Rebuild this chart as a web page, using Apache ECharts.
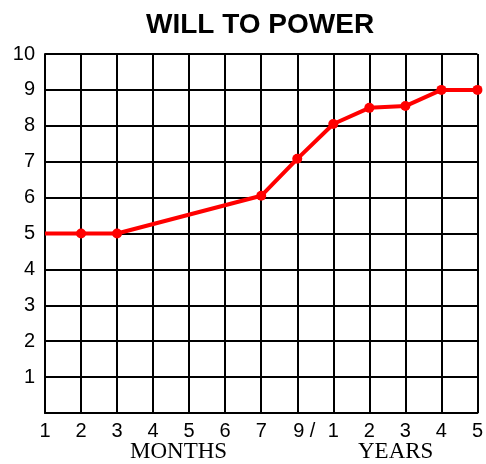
<!DOCTYPE html>
<html>
<head>
<meta charset="utf-8">
<script src="https://cdn.jsdelivr.net/npm/echarts@6/dist/echarts.min.js"></script>
<style>
  html, body { margin: 0; padding: 0; background: #fff; }
  #chart { width: 486px; height: 464px; }
</style>
</head>
<body>
<div id="chart"></div>
<script>
// tick labels along the bottom, one per grid line
const tickLabels = ['1', '2', '3', '4', '5', '6', '7', '9', '1', '2', '3', '4', '5'];
// positions (index into tickLabels) and values of the line
const xIndex = [0, 1, 2, 6, 7, 8, 9, 10, 11, 12];
const values = [5, 5, 5, 6.05, 7.08, 8.05, 8.5, 8.55, 9, 9];
// which points get a dot
const dotted = [false, true, true, true, true, true, true, true, true, true];

const chart = echarts.init(document.getElementById('chart'));

const points = xIndex.map((x, i) => ({
    value: [x, values[i]],
    symbol: dotted[i] ? 'circle' : 'none'
}));

chart.setOption({
    animation: false,
    title: {
        text: 'WILL TO POWER',
        left: 141,
        top: 6,
        textStyle: { fontFamily: 'Liberation Sans', fontWeight: 'bold', fontSize: 28, color: '#000' }
    },
    grid: { left: 45, right: 8, top: 54, bottom: 51 },
    xAxis: {
        type: 'value',
        min: 0, max: 12, interval: 1,
        axisLine: { show: true, lineStyle: { color: '#000', width: 2 } },
        axisTick: { show: false },
        splitLine: { show: true, lineStyle: { color: '#000', width: 2 } },
        axisLabel: {
            margin: 8,
            color: '#000',
            fontFamily: 'Liberation Sans',
            fontSize: 20,
            showMinLabel: true,
            showMaxLabel: true,
            formatter: v => v === 7 ? '{s|9 /}' : tickLabels[v],
            rich: { s: { fontFamily: 'Liberation Sans', fontSize: 20, color: '#000', padding: [0, 0, 0, 14] } }
        }
    },
    yAxis: {
        type: 'value',
        min: 0, max: 10, interval: 1,
        axisLine: { show: true, lineStyle: { color: '#000', width: 2 } },
        axisTick: { show: false },
        splitLine: { show: true, lineStyle: { color: '#000', width: 2 } },
        axisLabel: {
            margin: 10,
            color: '#000',
            fontFamily: 'Liberation Sans',
            fontSize: 20,
            formatter: v => v === 0 ? '' : String(v)
        }
    },
    graphic: [
        { type: 'text', left: 130, top: 440, style: { text: 'MONTHS', font: '23px "Liberation Serif"', fill: '#000' } },
        { type: 'text', left: 358, top: 440, style: { text: 'YEARS', font: '23px "Liberation Serif"', fill: '#000' } }
    ],
    series: [{
        type: 'line',
        data: points,
        symbolSize: 10,
        lineStyle: { color: '#ff0000', width: 4 },
        itemStyle: { color: '#ff0000' }
    }]
});
</script>
</body>
</html>
